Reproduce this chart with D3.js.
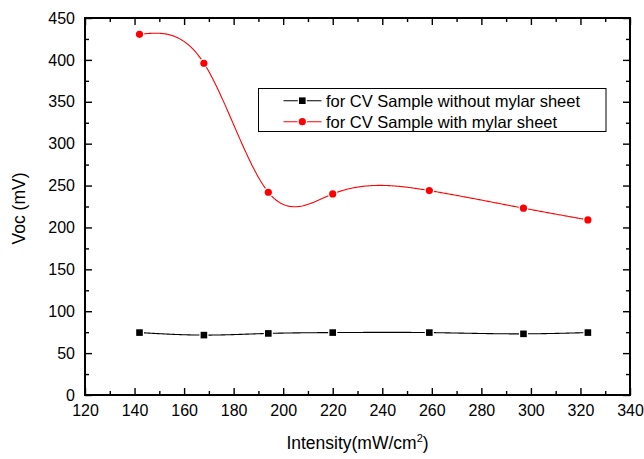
<!DOCTYPE html>
<html><head><meta charset="utf-8">
<script src="https://cdn.jsdelivr.net/npm/d3@7"></script>
<style>body{margin:0;background:#fff}svg{display:block}text{font-family:"Liberation Sans",Arial,Helvetica,sans-serif}</style>
</head><body><svg id="c" width="644" height="459"></svg>
<script>
const intensity = [142, 168, 194, 220, 259, 297, 323];
const vocWithout = [74.5, 71.5, 73.5, 74.5, 74.5, 73, 74.5];
const vocWith = [430.5, 396, 242, 240, 244, 223, 209];
const seriesNames = ["for CV Sample without mylar sheet", "for CV Sample with mylar sheet"];
const xTicks = [120,140,160,180,200,220,240,260,280,300,320,340];
const yTicks = [0,50,100,150,200,250,300,350,400,450];

const svg = d3.select("#c");
const L=85, R=630, T=18, B=395;
const x = d3.scaleLinear().domain([120,340]).range([L,R]);
const y = d3.scaleLinear().domain([0,450]).range([B,T]);

function naturalSpline(xs, ys){
  const n = xs.length, h=[], M=new Array(n).fill(0);
  for(let i=0;i<n-1;i++) h.push(xs[i+1]-xs[i]);
  const m = n-2;
  const A=[],Bd=[],C=[],D=[];
  for(let i=1;i<n-1;i++){
    A.push(h[i-1]); Bd.push(2*(h[i-1]+h[i])); C.push(h[i]);
    D.push(6*((ys[i+1]-ys[i])/h[i]-(ys[i]-ys[i-1])/h[i-1]));
  }
  for(let i=1;i<m;i++){const w=A[i]/Bd[i-1]; Bd[i]-=w*C[i-1]; D[i]-=w*D[i-1];}
  const sol=new Array(m);
  sol[m-1]=D[m-1]/Bd[m-1];
  for(let i=m-2;i>=0;i--) sol[i]=(D[i]-C[i]*sol[i+1])/Bd[i];
  for(let i=0;i<m;i++) M[i+1]=sol[i];
  return function(t){
    let i=0; while(i<n-2 && t>xs[i+1]) i++;
    const hi=h[i], u=xs[i+1]-t, v=t-xs[i];
    return M[i]*u*u*u/(6*hi)+M[i+1]*v*v*v/(6*hi)+(ys[i]/hi-M[i]*hi/6)*u+(ys[i+1]/hi-M[i+1]*hi/6)*v;
  };
}
function curvePts(xs, ys){
  const f=naturalSpline(xs,ys), pts=[];
  const x0=xs[0], x1=xs[xs.length-1], N=400;
  for(let k=0;k<=N;k++){const t=x0+(x1-x0)*k/N; pts.push([t,f(t)]);}
  return pts;
}
const line = d3.line().x(d=>x(d[0])).y(d=>y(d[1]));

svg.append("path").attr("d", line(curvePts(intensity, vocWithout))).attr("fill","none").attr("stroke","#000").attr("stroke-width",1.1);
svg.append("path").attr("d", line(curvePts(intensity, vocWith))).attr("fill","none").attr("stroke","#ff0000").attr("stroke-width",1.1);

svg.append("g").selectAll("rect").data(intensity.map((v,i)=>[v,vocWithout[i]])).join("rect")
  .attr("x",d=>x(d[0])-3.3).attr("y",d=>y(d[1])-3.3).attr("width",6.6).attr("height",6.6)
  .attr("fill","#000").attr("stroke","#fff").attr("stroke-width",2.5).attr("paint-order","stroke");
svg.append("g").selectAll("circle").data(intensity.map((v,i)=>[v,vocWith[i]])).join("circle")
  .attr("cx",d=>x(d[0])).attr("cy",d=>y(d[1])).attr("r",3.6)
  .attr("fill","#ff0000").attr("stroke","#fff").attr("stroke-width",2.5).attr("paint-order","stroke");

const xMinor = d3.range(130,340,20), yMinor = d3.range(25,450,50);
function axisGroup(g){ g.selectAll("path").remove(); g.selectAll("line").attr("stroke","#000").attr("stroke-width",1.4); }
const fs = 16;
const bx = svg.append("g").attr("transform",`translate(0,${B})`).call(d3.axisBottom(x).tickValues(xTicks).tickSize(-7).tickPadding(10));
bx.call(axisGroup); bx.selectAll("text").attr("font-size",fs).attr("fill","#000").attr("font-family",null);
svg.append("g").attr("transform",`translate(0,${B})`).call(d3.axisBottom(x).tickValues(xMinor).tickSize(-4).tickFormat("")).call(axisGroup);
svg.append("g").attr("transform",`translate(0,${T})`).call(d3.axisTop(x).tickValues(xTicks).tickSize(-7).tickFormat("")).call(axisGroup);
svg.append("g").attr("transform",`translate(0,${T})`).call(d3.axisTop(x).tickValues(xMinor).tickSize(-4).tickFormat("")).call(axisGroup);
const ly = svg.append("g").attr("transform",`translate(${L},0)`).call(d3.axisLeft(y).tickValues(yTicks).tickSize(-7).tickPadding(10));
ly.call(axisGroup); ly.selectAll("text").attr("font-size",fs).attr("fill","#000").attr("font-family",null);
svg.append("g").attr("transform",`translate(${L},0)`).call(d3.axisLeft(y).tickValues(yMinor).tickSize(-4).tickFormat("")).call(axisGroup);
svg.append("g").attr("transform",`translate(${R},0)`).call(d3.axisRight(y).tickValues(yTicks).tickSize(-7).tickFormat("")).call(axisGroup);
svg.append("g").attr("transform",`translate(${R},0)`).call(d3.axisRight(y).tickValues(yMinor).tickSize(-4).tickFormat("")).call(axisGroup);

svg.append("rect").attr("x",L).attr("y",T).attr("width",R-L).attr("height",B-T).attr("fill","none").attr("stroke","#000").attr("stroke-width",2);

const xt = svg.append("text").attr("x",(L+R)/2).attr("y",449).attr("text-anchor","middle").attr("font-size",17.5).attr("fill","#000");
xt.append("tspan").text("Intensity(mW/cm");
xt.append("tspan").text("2").attr("font-size",11).attr("dy",-7);
xt.append("tspan").text(")").attr("dy",7);
svg.append("text").attr("transform",`translate(25,${(T+B)/2+2}) rotate(-90)`).attr("text-anchor","middle").attr("font-size",17.5).attr("fill","#000").text("Voc (mV)");

const lg = svg.append("g");
lg.append("rect").attr("x",258.5).attr("y",88.5).attr("width",347.5).attr("height",43).attr("fill","#fff").attr("stroke","#000").attr("stroke-width",1);
const legendRows=[{name:seriesNames[0],color:"#000",shape:"square",yy:100.7},{name:seriesNames[1],color:"#ff0000",shape:"circle",yy:121.7}];
legendRows.forEach(r=>{
  lg.append("line").attr("x1",283.5).attr("x2",321.5).attr("y1",r.yy).attr("y2",r.yy).attr("stroke",r.color).attr("stroke-width",1.1);
  if(r.shape==="square") lg.append("rect").attr("x",302.3-3.3).attr("y",r.yy-3.3).attr("width",6.6).attr("height",6.6).attr("fill","#000").attr("stroke","#fff").attr("stroke-width",2.5).attr("paint-order","stroke");
  else lg.append("circle").attr("cx",302.3).attr("cy",r.yy).attr("r",3.6).attr("fill","#ff0000").attr("stroke","#fff").attr("stroke-width",2.5).attr("paint-order","stroke");
  lg.append("text").attr("x",326).attr("y",r.yy+6).attr("font-size",16.5).attr("fill","#000").text(r.name);
});
</script></body></html>
